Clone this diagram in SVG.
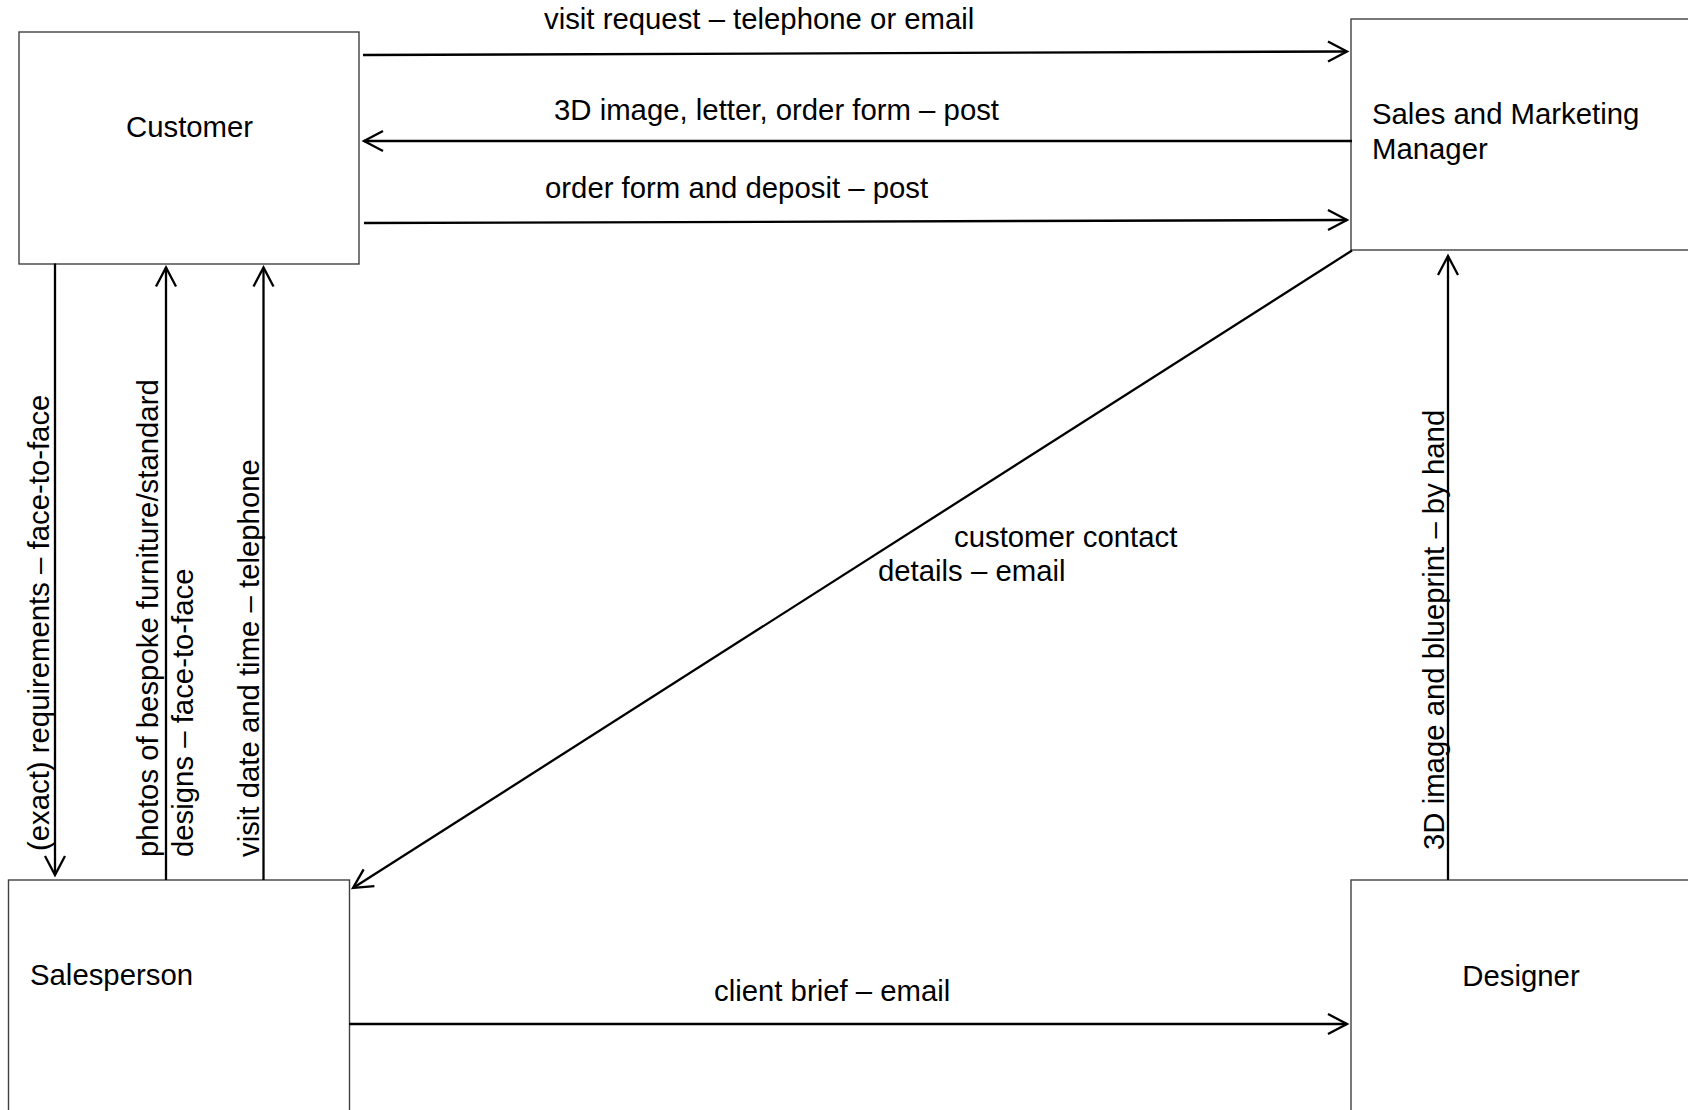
<svg xmlns="http://www.w3.org/2000/svg" width="1688" height="1110" viewBox="0 0 1688 1110">
<style>
.box{fill:#fff;stroke:#404040;stroke-width:1.4}
.t{font-family:"Liberation Sans",Arial,sans-serif;font-size:29.33px;fill:#000}
.c{fill:none;stroke:#000;stroke-width:2.3}
</style>
<defs>
<marker id="ah" markerUnits="userSpaceOnUse" markerWidth="24" markerHeight="24" viewBox="-20 -12 24 24" refX="0" refY="0" orient="auto" overflow="visible">
<path d="M-19,-10 L0,0 L-19,10" fill="none" stroke="#000" stroke-width="2.3"/>
</marker>
</defs>
<rect width="1688" height="1110" fill="#fff"/>
<g id="customer">
<rect class="box" x="19" y="32" width="340" height="232"/>
<text class="t" x="126" y="137">Customer</text>
</g>
<g id="smm">
<rect class="box" x="1351" y="19" width="400" height="231"/>
<text class="t" x="1372" y="124">Sales and Marketing</text>
<text class="t" x="1372" y="159">Manager</text>
</g>
<g id="salesperson">
<rect class="box" x="8.5" y="880" width="341" height="300"/>
<text class="t" x="30" y="985">Salesperson</text>
</g>
<g id="designer">
<rect class="box" x="1351" y="880" width="400" height="300"/>
<text class="t" x="1521" y="986" text-anchor="middle">Designer</text>
</g>
<g id="connectors">
<line class="c" x1="363" y1="55" x2="1347" y2="51.5" marker-end="url(#ah)"/>
<line class="c" x1="1352" y1="141" x2="364" y2="141" marker-end="url(#ah)"/>
<line class="c" x1="364" y1="223" x2="1347" y2="220" marker-end="url(#ah)"/>
<line class="c" x1="1352" y1="250.5" x2="353" y2="888" marker-end="url(#ah)"/>
<line class="c" x1="1448" y1="880" x2="1448" y2="256" marker-end="url(#ah)"/>
<line class="c" x1="55" y1="263.5" x2="55" y2="875" marker-end="url(#ah)"/>
<line class="c" x1="166" y1="880" x2="166" y2="267.5" marker-end="url(#ah)"/>
<line class="c" x1="263.5" y1="880" x2="263.5" y2="267.5" marker-end="url(#ah)"/>
<line class="c" x1="349" y1="1024" x2="1347" y2="1024" marker-end="url(#ah)"/>
<text class="t" x="544" y="29">visit request – telephone or email</text>
<text class="t" x="554" y="120">3D image, letter, order form – post</text>
<text class="t" x="545" y="198">order form and deposit – post</text>
<text class="t" x="954" y="547">customer contact</text>
<text class="t" x="878" y="581">details – email</text>
<text class="t" x="714" y="1001">client brief – email</text>
<text class="t" transform="translate(1444,850) rotate(-90)">3D image and blueprint – by hand</text>
<text class="t" transform="translate(49,851) rotate(-90)">(exact) requirements – face-to-face</text>
<text class="t" transform="translate(157.5,857) rotate(-90)">photos of bespoke furniture/standard</text>
<text class="t" transform="translate(192.5,857) rotate(-90)">designs – face-to-face</text>
<text class="t" transform="translate(258.5,857) rotate(-90)">visit date and time – telephone</text>
</g>
</svg>
